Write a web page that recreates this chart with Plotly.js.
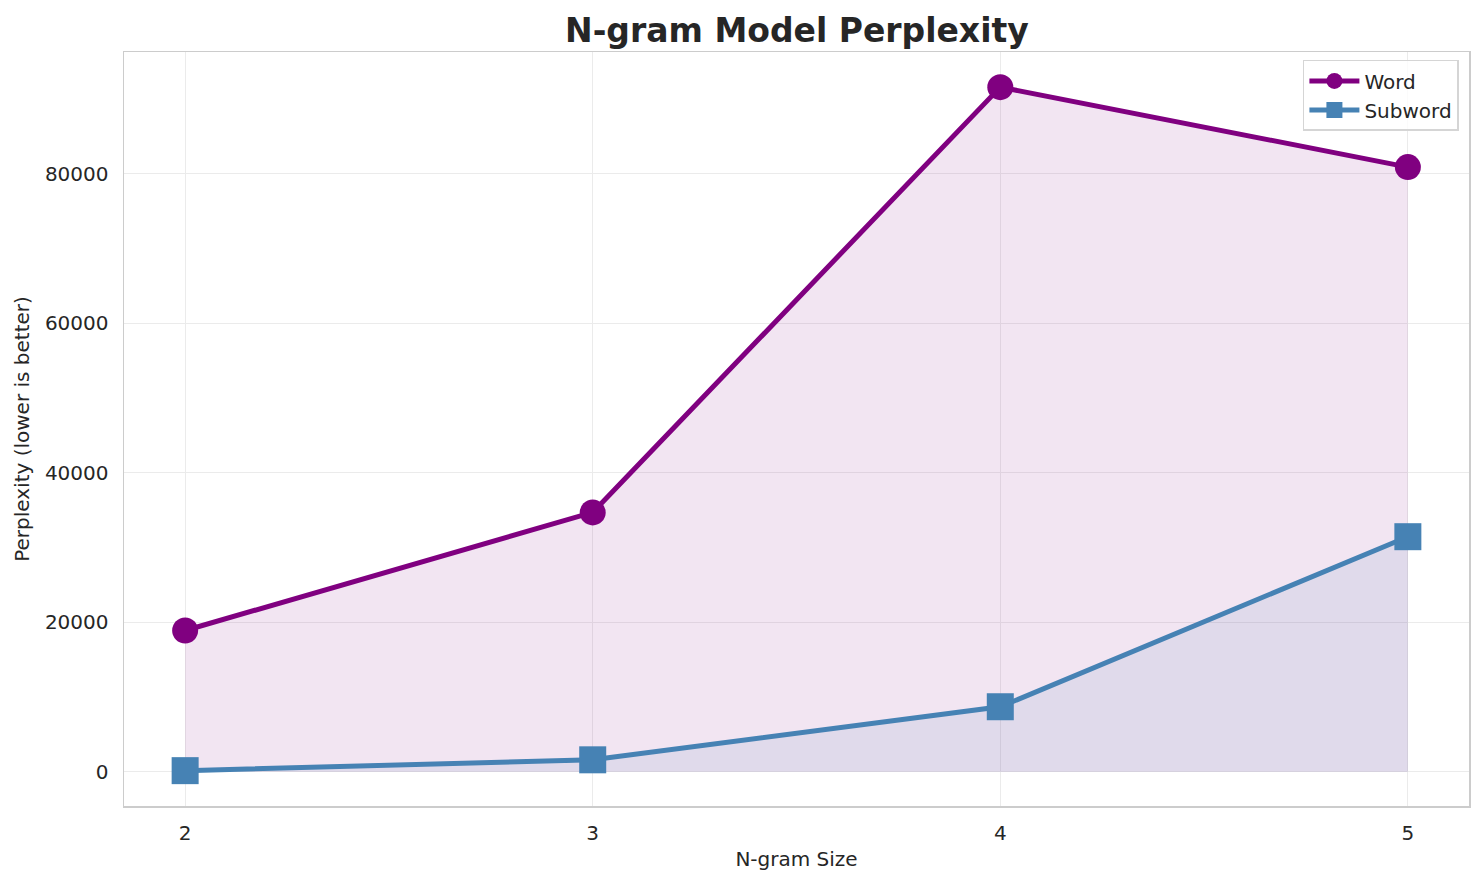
<!DOCTYPE html>
<html><head><meta charset="utf-8">
<script src="https://cdn.plot.ly/plotly-3.0.1.min.js"></script>
<style>html,body{margin:0;padding:0;background:#fff}#c{width:1484px;height:885px}</style>
</head><body><div id="c"></div>
<script>
const ngramSizes = [2, 3, 4, 5];
const wordPerplexity = [18900, 34700, 91600, 80900];
const subwordPerplexity = [150, 1600, 8700, 31450];
const seriesNames = ['Word', 'Subword'];
const yTicks = [0, 20000, 40000, 60000, 80000];

const purple = '#800080', steel = '#4682b4';
const traces = [
  {x: ngramSizes, y: wordPerplexity, type: 'scatter', mode: 'lines', fill: 'tozeroy',
   fillcolor: 'rgba(128,0,128,0.1)', line: {width: 0.8, color: 'rgba(128,0,128,0.12)'}, showlegend: false, hoverinfo: 'skip'},
  {x: ngramSizes, y: subwordPerplexity, type: 'scatter', mode: 'lines', fill: 'tozeroy',
   fillcolor: 'rgba(70,130,180,0.1)', line: {width: 0.8, color: 'rgba(70,130,180,0.12)'}, showlegend: false, hoverinfo: 'skip'},
  {x: ngramSizes, y: wordPerplexity, type: 'scatter', mode: 'lines+markers', name: seriesNames[0],
   line: {color: purple, width: 5}, marker: {symbol: 'circle', size: 26, color: purple}},
  {x: ngramSizes, y: subwordPerplexity, type: 'scatter', mode: 'lines+markers', name: seriesNames[1],
   line: {color: steel, width: 5}, marker: {symbol: 'square', size: 27, color: steel}}
];
const font = {family: 'DejaVu Sans', size: 20, color: '#262626'};
const layout = {
  width: 1484, height: 885,
  margin: {l: 124, r: 15, t: 52, b: 79},
  paper_bgcolor: '#fff', plot_bgcolor: '#fff',
  font: font,
  title: {text: '<b>N-gram Model Perplexity</b>', x: 0.537, xanchor: 'center', y: 0.966, yanchor: 'middle',
          font: {family: 'DejaVu Sans', size: 33, color: '#262626'}},
  xaxis: {range: [1.85, 5.15], tickvals: ngramSizes, ticktext: ngramSizes.map(String),
          showgrid: true, gridcolor: '#ebebeb', gridwidth: 1, zeroline: false,
          showline: true, mirror: true, linecolor: '#cccccc', linewidth: 1.5,
          ticks: '', tickfont: font, ticklabelstandoff: 8,
          title: {text: 'N-gram Size', font: font, standoff: 8}},
  yaxis: {range: [-4580, 96300], tickvals: yTicks, ticktext: yTicks.map(String),
          showgrid: true, gridcolor: '#ebebeb', gridwidth: 1, zeroline: false,
          showline: true, mirror: true, linecolor: '#cccccc', linewidth: 1.5,
          ticks: '', tickfont: font, ticklabelstandoff: 10,
          title: {text: 'Perplexity (lower is better)', font: font, standoff: 10}},
  legend: {x: 0.9925, y: 0.9895, xanchor: 'right', yanchor: 'top',
           bgcolor: 'rgba(255,255,255,0.8)', bordercolor: '#d5d5d5', borderwidth: 1.5,
           font: {family: 'DejaVu Sans', size: 20, color: '#262626'}, itemwidth: 50, tracegroupgap: 0},
  showlegend: true
};
Plotly.newPlot('c', traces, layout, {displayModeBar: false, staticPlot: true});
</script></body></html>
